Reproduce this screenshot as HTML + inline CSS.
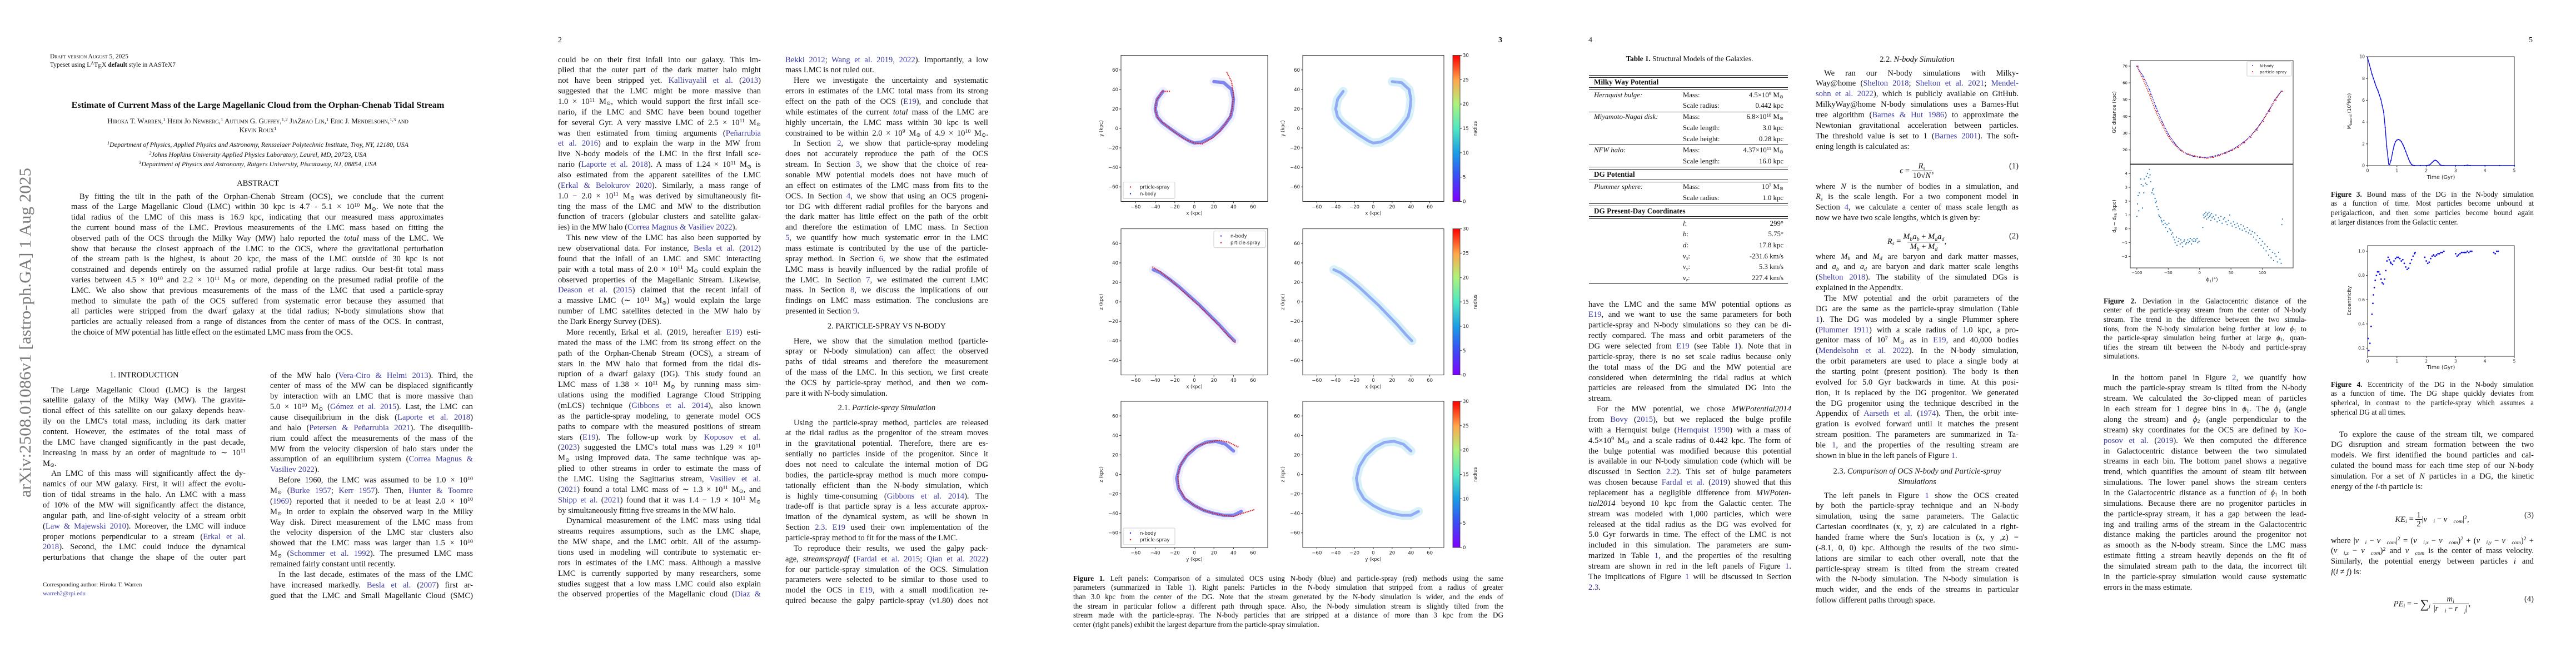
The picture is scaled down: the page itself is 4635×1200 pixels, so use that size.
<!DOCTYPE html>
<html><head><meta charset="utf-8">
<style>
html,body{margin:0;padding:0;background:#fff;}
body{width:4635px;height:1200px;position:relative;overflow:hidden;font-family:"Liberation Serif","DejaVu Serif",serif;color:#111;}
.ln{position:absolute;white-space:normal;overflow:hidden;text-align:justify;text-align-last:justify;}
.ln.last{text-align-last:left;}
.lk{color:#3b3ba6;}
sup{font-size:.68em;vertical-align:0;position:relative;top:-.45em;line-height:0;}
sub{font-size:.68em;vertical-align:0;position:relative;top:.25em;line-height:0;}
.abs{position:absolute;white-space:nowrap;}
.sc{font-variant:small-caps;}
.ctr{text-align:center;}
svg text{font-family:"DejaVu Sans","Liberation Sans",sans-serif;}
</style></head>
<body>

<svg id="charts" width="4635" height="1200" style="position:absolute;left:0;top:0" xmlns="http://www.w3.org/2000/svg">
<defs>
<linearGradient id="rainbow" x1="0" y1="1" x2="0" y2="0">
<stop offset="0" stop-color="#7f00ff"/><stop offset="0.17" stop-color="#3a4cf5"/><stop offset="0.33" stop-color="#1a9ce6"/><stop offset="0.5" stop-color="#4fe8c2"/><stop offset="0.67" stop-color="#b0f27a"/><stop offset="0.83" stop-color="#ffa64a"/><stop offset="1" stop-color="#ff0000"/>
</linearGradient>
</defs>
<text x="0" y="0" transform="translate(55,895) rotate(-90)" textLength="593" lengthAdjust="spacingAndGlyphs" style="font-family:'Liberation Serif',serif;font-size:30px;fill:#7a7a7a">arXiv:2508.01086v1  [astro-ph.GA]  1 Aug 2025</text>
</svg>

<div id="text"></div>

<script>
// ---------------- chart data ----------------
// Figure 1 stream centre lines (kpc)
const xyNbodyX = [-32,-38,-40,-38,-33,-25,-15,-5,0,8,18,26,32,37,39,40,38,30,20];
const xyNbodyY = [38,30,20,12,6,0,-7,-13,-15,-14,-9,-2,5,12,20,30,40,47,48];
const xyPsX = [-25,-33,-39,-40,-37,-30,-20,-10,0,8,18,26,32,37,39,40,38,33];
const xyPsY = [38,38,28,18,10,4,-4,-11,-15,-16,-10,-3,5,13,22,35,48,58];
const xzNbodyX = [-42,-35,-25,-15,-5,5,15,25,35,41];
const xzNbodyZ = [33,30,23,15,6,-3,-13,-23,-34,-40];
const xzPsX = [-43,-35,-25,-15,-5,5,15,25,35,42];
const xzPsZ = [36,31,23,14,5,-4,-14,-24,-35,-42];
const yzNbodyY = [40,32,22,12,2,-8,-15,-18,-16,-10,0,10,20,30,40,48];
const yzNbodyZ = [24,31,34,33,28,19,8,-4,-15,-25,-32,-37,-40,-42,-42,-38];
const yzPsY = [45,35,25,15,5,-5,-13,-17,-16,-10,0,10,20,30,40,52,62];
const yzPsZ = [28,33,35,33,30,23,12,0,-13,-24,-32,-37,-40,-42,-43,-39,-36];
const axisTicks1 = [-60,-40,-20,0,20,40,60];
const cbarTicks = [0,5,10,15,20,25,30];
// Figure 2
const phiGrid = [-100,-90,-80,-70,-60,-50,-40,-30,-20,-10,0,10,20,30,40,50,60,70,80,90,100,110,120,130];
const distNbody = [70,64,56,46,37,29.5,24,20,17.5,16.2,15.5,15.5,16,17,18.2,19.8,22,24.6,28,32.2,37.4,43.5,50,55];
const distSpray = [70,62,53,43,35,28,23,19.5,17.5,16.5,15.8,15,15.5,16.5,18,19.5,21.5,24.3,27.5,31.8,37,43,49.5,55];
const devPhi = [-100,-99,-98,-97,-96,-94,-93,-91,-90,-89,-88,-86,-85,-84,-83,-81,-80,-79,-78,-76,-75,-74,-73,-71,-70,-69,-68,-66,-65,-64,-62,-61,-60,-58,-57,-55,-54,-52,-51,-49,-48,-46,-45,-43,-42,-40,-39,-37,-36,-34,-33,-31,-30,-28,-27,-25,-24,-22,-21,-19,-18,-16,-15,-13,-12,-10,-9,-7,-6,-4,-3,-1,
5,6,7,8,9,10,11,12,13,14,15,16,17,18,19,20,22,24,26,28,30,32,34,36,38,40,42,44,46,48,50,52,54,56,58,60,62,64,66,68,70,72,74,76,78,80,82,84,86,88,90,92,94,96,98,100,102,104,106,108,110,112,114,116,118,120,122,124,126,128,130,131,132];
const devVal = [0.9,1.8,2.4,1.3,2.6,3.6,3.2,1.5,3.1,2.6,3.6,3.3,3.8,3.2,4.0,3.7,4.3,3.9,3.4,2.6,2.8,2.9,2.5,2.2,1.9,2.0,1.6,1.4,1.0,0.9,0.8,0.6,0.5,0.3,0.6,0.4,0.1,0.3,-0.2,0.4,0.0,-0.1,-0.4,-0.3,-0.6,-0.8,-1.0,-0.6,-1.2,-0.9,-0.7,-1.1,-0.8,-1.0,-1.3,-0.9,-0.8,-1.1,-1.0,-0.8,-1.0,-0.9,-0.7,-1.1,-0.8,-0.9,-0.7,-0.9,-0.8,-0.7,-1.0,-0.9,
0.1,1.0,0.8,1.1,0.9,1.2,0.7,1.0,1.1,0.8,1.2,0.9,1.0,0.6,1.1,0.8,
0.9,0.7,1.0,0.5,0.8,0.6,0.9,0.4,0.7,0.8,0.5,0.3,0.6,1.0,0.4,0.2,0.5,0.3,0.1,0.4,0.2,0.0,0.3,-0.1,0.2,0.0,-0.2,0.1,-0.3,-0.1,-0.4,-0.2,-0.6,-0.3,-0.8,-0.5,-1.0,-0.7,-1.2,-0.9,-1.4,-1.1,-1.6,-1.3,-1.9,-1.5,-2.1,-1.7,-2.3,-1.8,-2.0,-2.4,-1.7,-2.2,-2.5,0.3,0.7];
const phiTicks = [-100,-50,0,50,100];
const distTicks = [20,30,40,50,60,70];
const devTicks = [-2,-1,0,1,2,3,4];
// Figure 3
const t3 = [0,0.05,0.1,0.15,0.2,0.25,0.3,0.35,0.4,0.45,0.5,0.55,0.6,0.65,0.7,0.72,0.75,0.8,0.85,0.9,0.95,1.0,1.05,1.1,1.15,1.2,1.25,1.3,1.35,1.4,1.45,1.5,1.55,1.6,1.8,2.0,2.1,2.15,2.2,2.25,2.3,2.35,2.4,2.45,2.5,2.6,3.0,3.3,3.4,3.5,4.0,4.5,5.0];
const m3 = [9.9,9.4,8.9,8.4,8.0,7.6,7.2,6.9,6.5,6.1,5.5,4.9,3.5,1.8,0.6,0.15,0.1,0.5,1.2,1.8,2.2,2.35,2.4,2.35,2.2,1.95,1.65,1.3,0.95,0.6,0.3,0.1,0.02,0,0,0,0.05,0.15,0.3,0.42,0.5,0.45,0.32,0.15,0.03,0,0,0,0.04,0,0,0,0];
const timeTicks = [0,1,2,3,4,5];
const massTicks = [0,2,4,6,8,10];
// Figure 4
const t4 = [0.02,0.04,0.08,0.12,0.15,0.18,0.2,0.23,0.26,0.3,0.34,0.38,0.42,0.46,0.5,0.54,0.58,0.62,0.66,0.7,0.74,0.78,0.8,0.85,0.9,0.95,1.0,1.05,1.1,1.15,1.2,1.25,1.3,1.35,1.4,1.45,1.5,1.55,1.6,1.62,1.95,2.0,2.05,2.1,2.15,2.2,2.25,2.3,2.35,2.4,2.45,2.5,2.55,2.6,3.0,3.05,3.1,3.15,3.2,3.25,3.3,3.35,3.4,3.45,3.5,3.55,4.3,4.35,4.4,4.45];
const e4 = [0.28,0.18,0.24,0.38,0.48,0.57,0.64,0.7,0.76,0.8,0.83,0.83,0.81,0.77,0.74,0.73,0.77,0.84,0.92,0.95,0.93,0.91,0.9,0.89,0.92,0.94,0.95,0.95,0.94,0.92,0.93,0.9,0.87,0.85,0.86,0.9,0.93,0.96,0.98,0.99,0.95,0.92,0.9,0.91,0.94,0.96,0.97,0.96,0.97,0.98,0.98,0.99,0.99,1.0,0.98,0.96,0.97,0.98,0.99,0.99,0.99,0.99,1.0,0.99,1.0,1.0,0.99,0.98,1.0,1.0];
const eccTicks = [0.2,0.4,0.6,0.8,1.0];

// ---------------- helpers ----------------
const NS = 'http://www.w3.org/2000/svg';
const svg = document.getElementById('charts');
function mk(tag, attrs, parent, name){
  const e = document.createElementNS(NS, tag);
  for (const k in attrs) e.setAttribute(k, attrs[k]);
  
  
  (parent || svg).appendChild(e);
  return e;
}
function lin(d0, d1, r0, r1){ return v => r0 + (v - d0) * (r1 - r0) / (d1 - d0); }
function fmt(v){ return (v < 0 ? '\u2212' + Math.abs(v) : String(v)); }
function axes(g, x, y, w, h, xd, yd, xt, yt, fs, yfmt){
  const sx = lin(xd[0], xd[1], x, x + w);
  const sy = lin(yd[0], yd[1], y + h, y);
  mk('rect', {x:x, y:y, width:w, height:h, fill:'#fff', stroke:'#333', 'stroke-width':1}, g, 'plot-frame');
  xt.forEach(v => {
    const px = sx(v);
    mk('line', {x1:px, x2:px, y1:y+h, y2:y+h+3, stroke:'#333'}, g, 'x-tick');
    const t = mk('text', {x:px, y:y+h+4+fs, 'text-anchor':'middle', 'font-size':fs, fill:'#222'}, g, 'x-tick-label');
    t.textContent = fmt(v);
  });
  yt.forEach(v => {
    const py = sy(v);
    mk('line', {x1:x-3, x2:x, y1:py, y2:py, stroke:'#333'}, g, 'y-tick');
    const t = mk('text', {x:x-5, y:py+fs*0.35, 'text-anchor':'end', 'font-size':fs, fill:'#222'}, g, 'y-tick-label');
    t.textContent = yfmt ? yfmt(v) : fmt(v);
  });
  return {sx, sy};
}
function pathD(sx, sy, xs, ys){ return xs.map((v,i)=>(i?'L':'M')+sx(v).toFixed(1)+' '+sy(ys[i]).toFixed(1)).join(' '); }
function label(g, x, y, txt, fs, rot, name){
  const t = mk('text', {x:x, y:y, 'text-anchor':'middle', 'font-size':fs, fill:'#222'}, g, name);
  if (rot) t.setAttribute('transform', 'rotate(-90 '+x+' '+y+')');
  t.innerHTML = txt;
  return t;
}

// ---------------- Figure 1 ----------------
const fig1 = mk('g', {}, svg, 'figure-1');
const rowsY = [99.5, 411.6, 722];
const rowH = 263;
const LX = 2017, LW = 264, RX = 2344, RW = 254;
const fig1Sets = [
  {nx:xyNbodyX, ny:xyNbodyY, px:xyPsX, py:xyPsY, xl:'x (kpc)', yl:'y (kpc)', leg:'bl', order:['ps','nb']},
  {nx:xzNbodyX, ny:xzNbodyZ, px:xzPsX, py:xzPsZ, xl:'x (kpc)', yl:'z (kpc)', leg:'tr', order:['nb','ps']},
  {nx:yzNbodyY, ny:yzNbodyZ, px:yzPsY, py:yzPsZ, xl:'y (kpc)', yl:'z (kpc)', leg:'bl', order:['nb','ps']}
];
fig1Sets.forEach((s, r) => {
  const y0 = rowsY[r];
  // left panel
  const gl = mk('g', {}, fig1, 'comparison-panel-'+(r+1));
  const a = axes(gl, LX, y0, LW, rowH, [-75,75], [-75,75], axisTicks1, axisTicks1, 8.5);
  mk('path', {d:pathD(a.sx,a.sy,s.nx,s.ny), fill:'none', stroke:'#3040ff', 'stroke-opacity':0.08, 'stroke-width':16, 'stroke-linejoin':'round','stroke-linecap':'round'}, gl, 'nbody-halo');
  mk('path', {d:pathD(a.sx,a.sy,s.nx,s.ny), fill:'none', stroke:'#2030e0', 'stroke-opacity':0.55, 'stroke-width':6, 'stroke-linejoin':'round','stroke-linecap':'round'}, gl, 'nbody-stream');
  mk('path', {d:pathD(a.sx,a.sy,s.px,s.py), fill:'none', stroke:'#e01010', 'stroke-opacity':0.85, 'stroke-width':2.2, 'stroke-dasharray':'2 1.2', 'stroke-linejoin':'round'}, gl, 'particle-spray-stream');
  label(gl, LX+LW/2, y0+rowH+24, s.xl, 8.5, false, 'x-axis-title');
  label(gl, LX-33, y0+rowH/2, s.yl, 8.5, true, 'y-axis-title');
  const lx = s.leg === 'bl' ? LX+4 : LX+LW-97;
  const ly = s.leg === 'bl' ? y0+rowH-35 : y0+4;
  const lg = mk('g', {}, gl, 'legend');
  mk('rect', {x:lx, y:ly, width:93, height:30, rx:2, fill:'#fff', stroke:'#ccc'}, lg, 'legend-box');
  s.order.forEach((k, i) => {
    const col = k === 'nb' ? '#1020e0' : '#e01010';
    mk('circle', {cx:lx+13, cy:ly+9+i*12, r:1.2, fill:col}, lg, 'legend-marker');
    const t = mk('text', {x:lx+30, y:ly+12+i*12, 'font-size':8.5, fill:'#222'}, lg, 'legend-entry');
    t.textContent = k === 'nb' ? 'n-body' : 'prticle-spray';
  });
  // right panel
  const gr = mk('g', {}, fig1, 'radius-panel-'+(r+1));
  const b = axes(gr, RX, y0, RW, rowH, [-75,75], [-75,75], axisTicks1, axisTicks1, 8.5);
  mk('path', {d:pathD(b.sx,b.sy,s.nx,s.ny), fill:'none', stroke:'#8fd3f0', 'stroke-opacity':0.35, 'stroke-width':16, 'stroke-linejoin':'round','stroke-linecap':'round'}, gr, 'outer-particles-halo');
  mk('path', {d:pathD(b.sx,b.sy,s.nx,s.ny), fill:'none', stroke:'#4a66f0', 'stroke-opacity':0.5, 'stroke-width':5, 'stroke-linejoin':'round','stroke-linecap':'round'}, gr, 'outer-particles-stream');
  label(gr, RX+RW/2, y0+rowH+24, s.xl, 8.5, false, 'x-axis-title');
  label(gr, RX-33, y0+rowH/2, s.yl, 8.5, true, 'y-axis-title');
  // colorbar
  const cb = mk('g', {}, fig1, 'colorbar-'+(r+1));
  mk('rect', {x:2614, y:y0, width:13, height:rowH, fill:'url(#rainbow)', stroke:'#333', 'stroke-width':0.8}, cb, 'colorbar-gradient');
  const cs = lin(0, 30, y0+rowH, y0);
  cbarTicks.forEach(v => {
    mk('line', {x1:2627, x2:2630, y1:cs(v), y2:cs(v), stroke:'#333'}, cb, 'colorbar-tick');
    const t = mk('text', {x:2632, y:cs(v)+3, 'font-size':8.5, fill:'#222'}, cb, 'colorbar-tick-label');
    t.textContent = v;
  });
  label(cb, 2657, y0+rowH/2, 'radius', 8.5, true, 'colorbar-title');
});

// ---------------- Figure 2 ----------------
const fig2 = mk('g', {}, svg, 'figure-2');
const f2x = 3833, f2w = 293;
const top2 = axes(fig2, f2x, 109, f2w, 186, [-110.5,149], [11.6,73.3], [], distTicks, 7);
phiTicks.forEach(v => { mk('line', {x1:top2.sx(v), x2:top2.sx(v), y1:295, y2:298, stroke:'#333'}, fig2, 'x-tick'); });
mk('path', {d:pathD(top2.sx,top2.sy,phiGrid,distNbody), fill:'none', stroke:'#2020e0', 'stroke-width':1.6, 'stroke-dasharray':'1.5 1.5'}, fig2, 'nbody-distance');
mk('path', {d:pathD(top2.sx,top2.sy,phiGrid,distSpray), fill:'none', stroke:'#e01010', 'stroke-width':1.6, 'stroke-dasharray':'1.5 1.8'}, fig2, 'spray-distance');
phiGrid.forEach((v,i) => {
  mk('circle', {cx:top2.sx(v), cy:top2.sy(distNbody[i]), r:1, fill:'#2020e0'}, fig2, 'nbody-point');
  mk('circle', {cx:top2.sx(v)+2, cy:top2.sy(distSpray[i]), r:1, fill:'#e01010'}, fig2, 'spray-point');
});
const lg2 = mk('g', {}, fig2, 'legend');
mk('rect', {x:4043, y:111, width:80, height:26, rx:2, fill:'#fff', stroke:'#ccc'}, lg2, 'legend-box');
[['N-body','#2020e0'],['particle-spray','#e01010']].forEach((e,i)=>{
  mk('circle', {cx:4053, cy:118+i*11, r:1, fill:e[1]}, lg2, 'legend-marker');
  const t = mk('text', {x:4066, y:121+i*11, 'font-size':7, fill:'#222'}, lg2, 'legend-entry');
  t.textContent = e[0];
});
label(fig2, 3807, 202, 'GC distance (kpc)', 8.5, true, 'y-axis-title');
const bot2 = axes(fig2, f2x, 296, f2w, 186, [-110.5,149], [-2.83,4.65], phiTicks, devTicks, 7);
devPhi.forEach((v,i) => {
  mk('rect', {x:bot2.sx(v)-1, y:bot2.sy(devVal[i])-1, width:2, height:2, fill:'#2b7bb9'}, fig2, 'deviation-point');
});
label(fig2, 3807, 389, 'd<tspan font-size="6" dy="2">N</tspan><tspan dy="-2"> \u2212 d</tspan><tspan font-size="6" dy="2">PS</tspan><tspan dy="-2"> (kpc)</tspan>', 8.5, true, 'y-axis-title');
label(fig2, 3980, 506, '\u03d5<tspan font-size="6" dy="2">1</tspan><tspan dy="-2">(\u00b0)</tspan>', 9, false, 'x-axis-title');

// ---------------- Figure 3 ----------------
const fig3 = mk('g', {}, svg, 'figure-3');
const a3 = axes(fig3, 4260, 102, 264, 196, [0,5], [0,10], timeTicks, massTicks, 7.5);
mk('path', {d:pathD(a3.sx,a3.sy,t3,m3), fill:'none', stroke:'#1010e0', 'stroke-width':1.4}, fig3, 'bound-mass-line');
t3.forEach((v,i)=>{ mk('circle', {cx:a3.sx(v), cy:a3.sy(m3[i]), r:1.1, fill:'#1010e0'}, fig3, 'bound-mass-point'); });
label(fig3, 4230, 200, 'M<tspan font-size="6" dy="2">bound</tspan><tspan dy="-2"> (10</tspan><tspan font-size="6" dy="-3">6</tspan><tspan dy="3">M\u2299)</tspan>', 8.5, true, 'y-axis-title');
label(fig3, 4392, 322, 'Time (Gyr)', 9.5, false, 'x-axis-title');

// ---------------- Figure 4 ----------------
const fig4 = mk('g', {}, svg, 'figure-4');
const a4 = axes(fig4, 4260, 442, 264, 199, [0,5], [0.133,1.046], timeTicks, eccTicks, 7.5, v=>v.toFixed(1));
t4.forEach((v,i)=>{ mk('circle', {cx:a4.sx(v), cy:a4.sy(e4[i]), r:1.4, fill:'#1010e0'}, fig4, 'eccentricity-point'); });
label(fig4, 4230, 541, 'Eccentricity', 9, true, 'y-axis-title');
label(fig4, 4392, 664, 'Time (Gyr)', 9.5, false, 'x-axis-title');

// ---------------- text ----------------
const TL = document.getElementById('text');
function html(s){ return s.replace(/\{([^}]*)\}/g, '<span class="lk">$1</span>'); }
function block(x, y, w, lines, lh, fs, name){
  lines.forEach((raw, i) => {
    let s = raw, last = false, ind = 0;
    if (s[0] === '>') { ind = 15; s = s.slice(1); }
    if (s[0] === '|') { last = true; s = s.slice(1); }
    const d = document.createElement('div');
    d.className = 'ln' + (last ? ' last' : '');
    d.style.left = (x + ind) + 'px';
    d.style.top = (y + i*lh - lh/2) + 'px';
    d.style.width = (w - ind) + 'px';
    d.style.height = lh + 'px';
    d.style.lineHeight = lh + 'px';
    d.style.fontSize = fs + 'px';
    d.innerHTML = html(s);
    
    
    TL.appendChild(d);
  });
}
function put(x, y, txt, fs, name, extra){
  const d = document.createElement('div');
  d.className = 'abs';
  d.style.left = x + 'px';
  d.style.top = (y - fs*0.6) + 'px';
  d.style.fontSize = fs + 'px';
  d.style.lineHeight = (fs*1.2) + 'px';
  if (extra) d.style.cssText += extra;
  d.innerHTML = html(txt);
  
  
  TL.appendChild(d);
  return d;
}
function center(cx, y, txt, fs, name, extra){
  return put(cx - 600, y, txt, fs, name, 'width:1200px;text-align:center;' + (extra||''));
}
const LH = 18.86, FS = 14.6, CW = 365;
const P1=0, P2=927, P3=1854, P4=2781, P5=3708;

// Page 1
put(P1+90, 103, 'Draft version August 5, 2025', 11.5, 'draft-date', 'font-variant:small-caps;');
put(P1+90, 118, 'Typeset using L<sup style="font-size:.7em">A</sup>T<sub style="font-size:1em">E</sub>X <b>default</b> style in AASTeX7', 11.5, 'typeset-note');
center(P1+464, 190, '<b>Estimate of Current Mass of the Large Magellanic Cloud from the Orphan-Chenab Tidal Stream</b>', 16.2, 'paper-title');
center(P1+464, 218, 'Hiroka T. Warren,<sup>1</sup> Heidi Jo Newberg,<sup>1</sup> Autumn G. Guffey,<sup>1,2</sup> JiaZhao Lin,<sup>1</sup> Eric J. Mendelsohn,<sup>1,3</sup> and', 13, 'author-list', 'font-variant:small-caps;');
center(P1+464, 234, 'Kevin Roux<sup>1</sup>', 13, 'author-list', 'font-variant:small-caps;');
center(P1+464, 260, '<i><sup>1</sup>Department of Physics, Applied Physics and Astronomy, Rensselaer Polytechnic Institute, Troy, NY, 12180, USA</i>', 12, 'affiliation');
center(P1+464, 278, '<i><sup>2</sup>Johns Hopkins University Applied Physics Laboratory, Laurel, MD, 20723, USA</i>', 12, 'affiliation');
center(P1+464, 295, '<i><sup>3</sup>Department of Physics and Astronomy, Rutgers University, Piscataway, NJ, 08854, USA</i>', 12, 'affiliation');
center(P1+464, 331, 'ABSTRACT', 14.5, 'abstract-heading');
block(P1+128, 354, 670, [
'>By fitting the tilt in the path of the Orphan-Chenab Stream (OCS), we conclude that the current',
'mass of the Large Magellanic Cloud (LMC) within 30 kpc is 4.7 - 5.1 × 10<sup>10</sup> M<sub>⊙</sub>. We note that the',
'tidal radius of the LMC of this mass is 16.9 kpc, indicating that our measured mass approximates',
'the current bound mass of the LMC. Previous measurements of the LMC mass based on fitting the',
'observed path of the OCS through the Milky Way (MW) halo reported the <i>total</i> mass of the LMC. We',
'show that because the closest approach of the LMC to the OCS, where the gravitational perturbation',
'of the stream path is the highest, is about 20 kpc, the mass of the LMC outside of 30 kpc is not',
'constrained and depends entirely on the assumed radial profile at large radius. Our best-fit total mass',
'varies between 4.5 × 10<sup>10</sup> and 2.2 × 10<sup>11</sup> M<sub>⊙</sub> or more, depending on the presumed radial profile of the',
'LMC. We also show that previous measurements of the mass of the LMC that used a particle-spray',
'method to simulate the path of the OCS suffered from systematic error because they assumed that',
'all particles were stripped from the dwarf galaxy at the tidal radius; N-body simulations show that',
'particles are actually released from a range of distances from the center of mass of the OCS. In contrast,',
'|the choice of MW potential has little effect on the estimated LMC mass from the OCS.'
], 18.8, FS, 'abstract-line');
center(P1+77+CW/2, 676, '1. INTRODUCTION', 14.5, 'section-heading');
block(P1+77, 702, CW, [
'>The Large Magellanic Cloud (LMC) is the largest',
'satellite galaxy of the Milky Way (MW). The gravita-',
'tional effect of this satellite on our galaxy depends heav-',
'ily on the LMC\'s total mass, including its dark matter',
'content. However, the estimates of the total mass of',
'the LMC have changed significantly in the past decade,',
'increasing in mass by an order of magnitude to ∼ 10<sup>11</sup>',
'|M<sub>⊙</sub>.',
'>An LMC of this mass will significantly affect the dy-',
'namics of our MW galaxy. First, it will affect the evolu-',
'tion of tidal streams in the halo. An LMC with a mass',
'of 10% of the MW will significantly affect the distance,',
'angular path, and line-of-sight velocity of a stream orbit',
'({Law &amp; Majewski 2010}). Moreover, the LMC will induce',
'proper motions perpendicular to a stream ({Erkal et al.}',
'{2018}). Second, the LMC could induce the dynamical',
'perturbations that change the shape of the outer part'
], LH, FS, 'body-text-line');
put(P1+77, 1053, 'Corresponding author: Hiroka T. Warren', 11, 'corresponding-author');
put(P1+77, 1069, '{warreh2@rpi.edu}', 11, 'author-email');
block(P1+486, 676, CW, [
'of the MW halo ({Vera-Ciro &amp; Helmi 2013}). Third, the',
'center of mass of the MW can be displaced significantly',
'by interaction with an LMC that is more massive than',
'5.0 × 10<sup>10</sup> M<sub>⊙</sub> ({Gómez et al. 2015}). Last, the LMC can',
'cause disequilibrium in the disk ({Laporte et al. 2018})',
'and halo ({Petersen &amp; Peñarrubia 2021}). The disequilib-',
'rium could affect the measurements of the mass of the',
'MW from the velocity dispersion of halo stars under the',
'assumption of an equilibrium system ({Correa Magnus &amp;}',
'|{Vasiliev 2022}).',
'>Before 1960, the LMC was assumed to be 1.0 × 10<sup>10</sup>',
'M<sub>⊙</sub> ({Burke 1957}; {Kerr 1957}). Then, {Hunter &amp; Toomre}',
'({1969}) reported that it needed to be at least 2.0 × 10<sup>10</sup>',
'M<sub>⊙</sub> in order to explain the observed warp in the Milky',
'Way disk. Direct measurement of the LMC mass from',
'the velocity dispersion of the LMC star clusters also',
'showed that the LMC mass was larger than 1.5 × 10<sup>10</sup>',
'M<sub>⊙</sub> ({Schommer et al. 1992}). The presumed LMC mass',
'|remained fairly constant until recently.',
'>In the last decade, estimates of the mass of the LMC',
'have increased markedly. {Besla et al.} ({2007}) first ar-',
'gued that the LMC and Small Magellanic Cloud (SMC)'
], LH, FS, 'body-text-line');

// Page 2
put(P2+77, 73, '2', 14, 'page-number');
block(P2+77, 108, CW, [
'could be on their first infall into our galaxy. This im-',
'plied that the outer part of the dark matter halo might',
'not have been stripped yet. {Kallivayalil et al.} ({2013})',
'suggested that the LMC might be more massive than',
'1.0 × 10<sup>11</sup> M<sub>⊙</sub>, which would support the first infall sce-',
'nario, if the LMC and SMC have been bound together',
'for several Gyr. A very massive LMC of 2.5 × 10<sup>11</sup> M<sub>⊙</sub>',
'was then estimated from timing arguments ({Peñarrubia}',
'{et al. 2016}) and to explain the warp in the MW from',
'live N-body models of the LMC in the first infall sce-',
'nario ({Laporte et al. 2018}). A mass of 1.24 × 10<sup>11</sup> M<sub>⊙</sub> is',
'also estimated from the apparent satellites of the LMC',
'({Erkal &amp; Belokurov 2020}). Similarly, a mass range of',
'1.0 − 2.0 × 10<sup>11</sup> M<sub>⊙</sub> was derived by simultaneously fit-',
'ting the mass of the LMC and MW to the distribution',
'function of tracers (globular clusters and satellite galax-',
'|ies) in the MW halo ({Correa Magnus &amp; Vasiliev 2022}).',
'>This new view of the LMC has also been supported by',
'new observational data. For instance, {Besla et al.} ({2012})',
'found that the infall of an LMC and SMC interacting',
'pair with a total mass of 2.0 × 10<sup>11</sup> M<sub>⊙</sub> could explain the',
'observed properties of the Magellanic Stream. Likewise,',
'{Deason et al.} ({2015}) claimed that the recent infall of',
'a massive LMC (∼ 10<sup>11</sup> M<sub>⊙</sub>) would explain the large',
'number of LMC satellites detected in the MW halo by',
'|the Dark Energy Survey (DES).',
'>More recently, Erkal et al. (2019, hereafter {E19}) esti-',
'mated the mass of the LMC from its strong effect on the',
'path of the Orphan-Chenab Stream (OCS), a stream of',
'stars in the MW halo that formed from the tidal dis-',
'ruption of a dwarf galaxy (DG). This study found an',
'LMC mass of 1.38 × 10<sup>11</sup> M<sub>⊙</sub> by running mass sim-',
'ulations using the modified Lagrange Cloud Stripping',
'(mLCS) technique ({Gibbons et al. 2014}), also known',
'as the particle-spray modeling, to generate model OCS',
'paths to compare with the measured positions of stream',
'stars ({E19}). The follow-up work by {Koposov et al.}',
'({2023}) suggested the LMC\'s total mass was 1.29 × 10<sup>11</sup>',
'M<sub>⊙</sub> using improved data. The same technique was ap-',
'plied to other streams in order to estimate the mass of',
'the LMC. Using the Sagittarius stream, {Vasiliev et al.}',
'({2021}) found a total LMC mass of ∼ 1.3 × 10<sup>11</sup> M<sub>⊙</sub>, and',
'{Shipp et al.} ({2021}) found that it was 1.4 − 1.9 × 10<sup>11</sup> M<sub>⊙</sub>',
'|by simultaneously fitting five streams in the MW halo.',
'>Dynamical measurement of the LMC mass using tidal',
'streams requires assumptions, such as the LMC shape,',
'the MW shape, and the LMC orbit. All of the assump-',
'tions used in modeling will contribute to systematic er-',
'rors in estimates of the LMC mass. Although a massive',
'LMC is currently supported by many researchers, some',
'studies suggest that a low mass LMC could also explain',
'the observed properties of the Magellanic cloud ({Diaz &amp;}'
], LH, FS, 'body-text-line');
block(P2+486, 108, CW, [
'{Bekki 2012}; {Wang et al. 2019}, {2022}). Importantly, a low',
'|mass LMC is not ruled out.',
'>Here we investigate the uncertainty and systematic',
'errors in estimates of the LMC total mass from its strong',
'effect on the path of the OCS ({E19}), and conclude that',
'while estimates of the current <i>total</i> mass of the LMC are',
'highly uncertain, the LMC mass within 30 kpc is well',
'constrained to be within 2.0 × 10<sup>9</sup> M<sub>⊙</sub> of 4.9 × 10<sup>10</sup> M<sub>⊙</sub>.',
'>In Section {2}, we show that particle-spray modeling',
'does not accurately reproduce the path of the OCS',
'stream. In Section {3}, we show that the choice of rea-',
'sonable MW potential models does not have much of',
'an effect on estimates of the LMC mass from fits to the',
'OCS. In Section {4}, we show that using an OCS progeni-',
'tor DG with different radial profiles for the baryons and',
'the dark matter has little effect on the path of the orbit',
'and therefore the estimation of LMC mass. In Section',
'{5}, we quantify how much systematic error in the LMC',
'mass estimate is contributed by the use of the particle-',
'spray method. In Section {6}, we show that the estimated',
'LMC mass is heavily influenced by the radial profile of',
'the LMC. In Section {7}, we estimated the current LMC',
'mass. In Section {8}, we discuss the implications of our',
'findings on LMC mass estimation. The conclusions are',
'|presented in Section {9}.'
], LH, FS, 'body-text-line');
center(P2+486+CW/2, 588, '2. PARTICLE-SPRAY VS N-BODY', 14.5, 'section-heading');
block(P2+486, 614, CW, [
'>Here, we show that the simulation method (particle-',
'spray or N-body simulation) can affect the observed',
'paths of tidal streams and therefore the measurement',
'of the mass of the LMC. In this section, we first create',
'the OCS by particle-spray method, and then we com-',
'|pare it with N-body simulation.'
], LH, FS, 'body-text-line');
center(P2+486+CW/2, 735, '2.1. <i>Particle-spray Simulation</i>', 14.5, 'subsection-heading');
block(P2+486, 761, CW, [
'>Using the particle-spray method, particles are released',
'at the tidal radius as the progenitor of the stream moves',
'in the gravitational potential. Therefore, there are es-',
'sentially no particles inside of the progenitor. Since it',
'does not need to calculate the internal motion of DG',
'bodies, the particle-spray method is much more compu-',
'tationally efficient than the N-body simulation, which',
'is highly time-consuming ({Gibbons et al. 2014}). The',
'trade-off is that particle spray is a less accurate approx-',
'imation of the dynamical system, as will be shown in',
'Section {2.3}. {E19} used their own implementation of the',
'|particle-spray method to fit for the mass of the LMC.',
'>To reproduce their results, we used the galpy pack-',
'age, <i>streamspraydf</i> ({Fardal et al. 2015}; {Qian et al. 2022})',
'for our particle-spray simulation of the OCS. Simulation',
'parameters were selected to be similar to those used to',
'model the OCS in {E19}, with a small modification re-',
'quired because the galpy particle-spray (v1.80) does not'
], LH, FS, 'body-text-line');

// Page 3
put(P3+842, 73, '<b>3</b>', 14, 'page-number');
block(P3+77, 1041, 774, [
'<b>Figure 1.</b> Left panels: Comparison of a simulated OCS using N-body (blue) and particle-spray (red) methods using the same',
'parameters (summarized in Table {1}). Right panels: Particles in the N-body simulation that stripped from a radius of greater',
'than 3.0 kpc from the center of the DG. Note that the stream generated by the N-body simulation is wider, and the ends of',
'the stream in particular follow a different path through space. Also, the N-body simulation stream is slightly tilted from the',
'stream made with the particle-spray. The N-body particles that are stripped at a distance of more than 3 kpc from the DG',
'|center (right panels) exhibit the largest departure from the particle-spray simulation.'
], 16.6, 13.2, 'figure-caption-line');

// Page 4
put(P4+77, 73, '4', 14, 'page-number');
center(P4+259, 106, '<b>Table 1.</b> Structural Models of the Galaxies.', 13.2, 'table-caption');
(function(){
  const X0 = P4+78, X1 = P4+436;
  function rule(y, dbl, name){
    const r = document.createElement('div');
    r.style.cssText = 'position:absolute;left:'+X0+'px;width:'+(X1-X0)+'px;top:'+y+'px;height:'+(dbl?3:0)+'px;border-top:1px solid #222;'+(dbl?'border-bottom:1px solid #222;':'');
    
    
    TL.appendChild(r);
  }
  rule(135, true, 'table-top-rule'); rule(157, true, 'table-rule'); rule(201, false, 'table-rule');
  rule(260, false, 'table-rule'); rule(300, true, 'table-rule'); rule(323, true, 'table-rule');
  rule(366, true, 'table-rule'); rule(389, true, 'table-rule'); rule(510, false, 'table-bottom-rule');
  const heads = [[148,'Milky Way Potential'],[314,'DG Potential'],[380,'DG Present-Day Coordinates']];
  heads.forEach(h => put(X0+9, h[0], '<b>'+h[1]+'</b>', 13.2, 'table-group-heading'));
  const rows = [
    [172,'Hernquist bulge:','Mass:','4.5×10<sup>9</sup> M<sub>⊙</sub>'],
    [191,'','Scale radius:','0.442 kpc'],
    [211,'Miyamoto-Nagai disk:','Mass:','6.8×10<sup>10</sup> M<sub>⊙</sub>'],
    [231,'','Scale length:','3.0 kpc'],
    [251,'','Scale height:','0.28 kpc'],
    [271,'NFW halo:','Mass:','4.37×10<sup>11</sup> M<sub>⊙</sub>'],
    [291,'','Scale length:','16.0 kpc'],
    [337,'Plummer sphere:','Mass:','10<sup>7</sup> M<sub>⊙</sub>'],
    [357,'','Scale radius:','1.0 kpc'],
    [403,'','<i>l</i>:','299°'],
    [422,'','<i>b</i>:','5.75°'],
    [442,'','<i>d</i>:','17.8 kpc'],
    [462,'','<i>v<sub>x</sub></i>:','-231.6 km/s'],
    [481,'','<i>v<sub>y</sub></i>:','5.3 km/s'],
    [501,'','<i>v<sub>z</sub></i>:','227.4 km/s']
  ];
  rows.forEach(r => {
    if (r[1]) put(X0+9, r[0], '<i>'+r[1]+'</i>', 12.8, 'table-component');
    put(P4+247, r[0], r[2], 12.8, 'table-parameter');
    put(P4+428-300, r[0], r[3], 12.8, 'table-value', 'width:300px;text-align:right;');
  });
})();
block(P4+77, 548, CW, [
'have the LMC and the same MW potential options as',
'{E19}, and we want to use the same parameters for both',
'particle-spray and N-body simulations so they can be di-',
'rectly compared. The mass and orbit parameters of the',
'DG were selected from {E19} (see Table {1}). Note that in',
'particle-spray, there is no set scale radius because only',
'the total mass of the DG and the MW potential are',
'considered when determining the tidal radius at which',
'particles are released from the simulated DG into the',
'|stream.',
'>For the MW potential, we chose <i>MWPotential2014</i>',
'from {Bovy} ({2015}), but we replaced the bulge profile',
'with a Hernquist bulge ({Hernquist 1990}) with a mass of',
'4.5×10<sup>9</sup> M<sub>⊙</sub> and a scale radius of 0.442 kpc. The form of',
'the bulge potential was modified because this potential',
'is available in our N-body simulation code (which will be',
'discussed in Section {2.2}). This set of bulge parameters',
'was chosen because {Fardal et al.} ({2019}) showed that this',
'replacement has a negligible difference from <i>MWPoten-</i>',
'<i>tial2014</i> beyond 10 kpc from the Galactic center. The',
'stream was modeled with 1,000 particles, which were',
'released at the tidal radius as the DG was evolved for',
'5.0 Gyr forwards in time. The effect of the LMC is not',
'included in this simulation. The parameters are sum-',
'marized in Table {1}, and the properties of the resulting',
'stream are shown in red in the left panels of Figure {1}.',
'The implications of Figure {1} will be discussed in Section',
'|{2.3}.'
], LH, FS, 'body-text-line');
center(P4+486+CW/2, 108, '2.2. <i>N-body Simulation</i>', 14.5, 'subsection-heading');
block(P4+486, 132, CW, [
'>We ran our N-body simulations with Milky-',
'Way@home ({Shelton 2018}; {Shelton et al. 2021}; {Mendel-}',
'{sohn et al. 2022}), which is publicly available on GitHub.',
'MilkyWay@home N-body simulations uses a Barnes-Hut',
'tree algorithm ({Barnes &amp; Hut 1986}) to approximate the',
'Newtonian gravitational acceleration between particles.',
'The threshold value is set to 1 ({Barnes 2001}). The soft-',
'|ening length is calculated as:'
], LH, FS, 'body-text-line');
center(P4+668, 300, '<i>ϵ</i> = <span style="display:inline-block;vertical-align:middle;text-align:center;line-height:17px"><i>R<sub>s</sub></i><br><span style="border-top:1px solid #111;padding:0 2px">10√<span style="text-decoration:overline"><i>N</i></span></span></span>,', 14.6, 'equation-1');
put(P4+851-40, 300, '(1)', 14.6, 'equation-number', 'width:40px;text-align:right;');
block(P4+486, 336, CW, [
'where <i>N</i> is the number of bodies in a simulation, and',
'<i>R<sub>s</sub></i> is the scale length. For a two component model in',
'Section {4}, we calculate a center of mass scale length as',
'|now we have two scale lengths, which is given by:'
], LH, FS, 'body-text-line');
center(P4+668, 426, '<i>R<sub>s</sub></i> = <span style="display:inline-block;vertical-align:middle;text-align:center;line-height:18px"><i>M<sub>b</sub>a<sub>b</sub></i> + <i>M<sub>d</sub>a<sub>d</sub></i><br><span style="border-top:1px solid #111;padding:0 4px"><i>M<sub>b</sub></i> + <i>M<sub>d</sub></i></span></span>,', 14.6, 'equation-2');
put(P4+851-40, 426, '(2)', 14.6, 'equation-number', 'width:40px;text-align:right;');
block(P4+486, 462, CW, [
'where <i>M<sub>b</sub></i> and <i>M<sub>d</sub></i> are baryon and dark matter masses,',
'and <i>a<sub>b</sub></i> and <i>a<sub>d</sub></i> are baryon and dark matter scale lengths',
'({Shelton 2018}). The stability of the simulated DGs is',
'|explained in the Appendix.',
'>The MW potential and the orbit parameters of the',
'DG are the same as the particle-spray simulation (Table',
'{1}). The DG was modeled by a single Plummer sphere',
'({Plummer 1911}) with a scale radius of 1.0 kpc, a pro-',
'genitor mass of 10<sup>7</sup> M<sub>⊙</sub> as in {E19}, and 40,000 bodies',
'({Mendelsohn et al. 2022}). In the N-body simulation,',
'the orbit parameters are used to place a single body at',
'the starting point (present position). The body is then',
'evolved for 5.0 Gyr backwards in time. At this posi-',
'tion, it is replaced by the DG progenitor. We generated',
'the DG progenitor using the technique described in the',
'Appendix of {Aarseth et al.} ({1974}). Then, the orbit inte-',
'gration is evolved forward until it matches the present',
'stream position. The parameters are summarized in Ta-',
'ble {1}, and the properties of the resulting stream are',
'|shown in blue in the left panels of Figure {1}.'
], LH, FS, 'body-text-line');
center(P4+486+CW/2, 849, '2.3. <i>Comparison of OCS N-body and Particle-spray</i>', 14.5, 'subsection-heading');
center(P4+486+CW/2, 868, '<i>Simulations</i>', 14.5, 'subsection-heading');
block(P4+486, 892, CW, [
'>The left panels in Figure {1} show the OCS created',
'by both the particle-spray technique and an N-body',
'simulation, using the same parameters. The Galactic',
'Cartesian coordinates (x, y, z) are calculated in a right-',
'handed frame where the Sun\'s location is (x, y ,z) =',
'(-8.1, 0, 0) kpc. Although the results of the two simu-',
'lations are similar to each other overall, note that the',
'particle-spray stream is tilted from the stream created',
'with the N-body simulation. The N-body simulation is',
'much wider, and the ends of the streams in particular',
'|follow different paths through space.'
], LH, FS, 'body-text-line');

// Page 5
put(P5+842, 73, '5', 14, 'page-number');
block(P5+77, 542, CW, [
'<b>Figure 2.</b> Deviation in the Galactocentric distance of the',
'center of the particle-spray stream from the center of N-body',
'stream. The trend in the difference between the two simula-',
'tions, from the N-body simulation being further at low <i>ϕ</i><sub>1</sub> to',
'the particle-spray simulation being further at large <i>ϕ</i><sub>1</sub>, quan-',
'tifies the stream tilt between the N-body and particle-spray',
'|simulations.'
], 16.6, 13.2, 'figure-caption-line');
block(P5+77, 680, CW, [
'>In the bottom panel in Figure {2}, we quantify how',
'much the particle-spray stream is tilted from the N-body',
'stream. We calculated the 3<i>σ</i>-clipped mean of particles',
'in each stream for 1 degree bins in <i>ϕ</i><sub>1</sub>. The <i>ϕ</i><sub>1</sub> (angle',
'along the stream) and <i>ϕ</i><sub>2</sub> (angle perpendicular to the',
'stream) sky coordinates for the OCS are defined by {Ko-}',
'{posov et al.} ({2019}). We then computed the difference',
'in Galactocentric distance between the two simulated',
'streams in each bin. The bottom panel shows a negative',
'trend, which quantifies the amount of steam tilt between',
'simulations. The lower panel shows the stream centers',
'in the Galactocentric distance as a function of <i>ϕ</i><sub>1</sub> in both',
'simulations. Because there are no progenitor particles in',
'the particle-spray stream, it has a gap between the lead-',
'ing and trailing arms of the stream in the Galactocentric',
'distance making the particles around the progenitor not',
'as smooth as the N-body stream. Since the LMC mass',
'estimate fitting a stream heavily depends on the fit of',
'the simulated stream path to the data, the incorrect tilt',
'in the particle-spray simulation would cause systematic',
'|errors in the mass estimate.'
], LH, FS, 'body-text-line');
block(P5+486, 350, CW, [
'<b>Figure 3.</b> Bound mass of the DG in the N-body simulation',
'as a function of time. Most particles become unbound at',
'perigalacticon, and then some particles become bound again',
'|at larger distances from the Galactic center.'
], 16.6, 13.2, 'figure-caption-line');
block(P5+486, 692, CW, [
'<b>Figure 4.</b> Eccentricity of the DG in the N-body simulation',
'as a function of time. The DG shape quickly deviates from',
'spherical, in contrast to the particle-spray which assumes a',
'|spherical DG at all times.'
], 16.6, 13.2, 'figure-caption-line');
block(P5+486, 782, CW, [
'>To explore the cause of the stream tilt, we compared',
'DG disruption and stream formation between the two',
'models. We first identified the bound particles and cal-',
'culated the bound mass for each time step of our N-body',
'simulation. For a set of <i>N</i> particles in a DG, the kinetic',
'|energy of the <i>i</i>-th particle is:'
], LH, FS, 'body-text-line');
center(P5+668, 928, '<i>KE<sub>i</sub></i> = <span style="display:inline-block;vertical-align:middle;text-align:center;line-height:16px">1<br><span style="border-top:1px solid #111;padding:0 2px">2</span></span>|<i>v⃗<sub>i</sub></i> − <i>v⃗<sub>com</sub></i>|<sup>2</sup>,', 14.6, 'equation-3');
put(P5+851-40, 928, '(3)', 14.6, 'equation-number', 'width:40px;text-align:right;');
block(P5+486, 973, CW, [
'where |<i>v⃗<sub>i</sub></i> − <i>v⃗<sub>com</sub></i>|<sup>2</sup> = (<i>v⃗<sub>i,x</sub></i> − <i>v⃗<sub>com</sub></i>)<sup>2</sup> + (<i>v⃗<sub>i,y</sub></i> − <i>v⃗<sub>com</sub></i>)<sup>2</sup> +',
'(<i>v⃗<sub>i,z</sub></i> − <i>v⃗<sub>com</sub></i>)<sup>2</sup> and <i>v⃗<sub>com</sub></i> is the center of mass velocity.',
'Similarly, the potential energy between particles <i>i</i> and',
'|<i>j</i>(<i>i</i> ≠ <i>j</i>) is:'
], LH, FS, 'body-text-line');
center(P5+668, 1079, '<i>PE<sub>i</sub></i> = − <span style="font-size:1.5em;vertical-align:middle">∑</span><sub><i>j</i></sub> <span style="display:inline-block;vertical-align:middle;text-align:center;line-height:17px"><i>m<sub>i</sub></i><br><span style="border-top:1px solid #111;padding:0 2px">|<i>r⃗<sub>i</sub></i> − <i>r⃗<sub>j</sub></i>|</span></span>,', 14.6, 'equation-4');
put(P5+851-40, 1079, '(4)', 14.6, 'equation-number', 'width:40px;text-align:right;');
</script>
</body></html>
